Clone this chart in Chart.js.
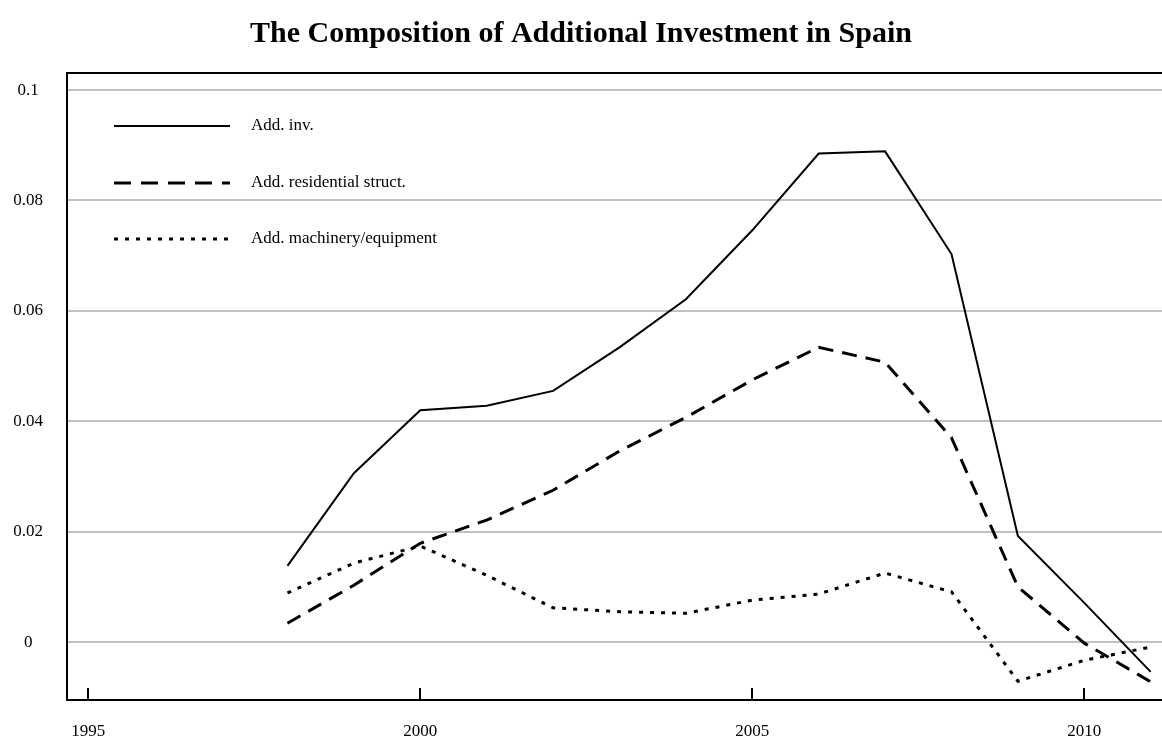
<!DOCTYPE html>
<html>
<head>
<meta charset="utf-8">
<script src="https://cdn.jsdelivr.net/npm/chart.js@4.4.1/dist/chart.umd.min.js"></script>
<style>
  html, body { margin: 0; padding: 0; background: #fff; }
  #wrap { width: 1162px; height: 736px; }
</style>
</head>
<body>
<div id="wrap"><canvas id="myChart" width="1162" height="736"></canvas></div>
<script>
// Data
const years = [1998, 1999, 2000, 2001, 2002, 2003, 2004, 2005, 2006, 2007, 2008, 2009, 2010, 2011];
const addInv = [0.0138, 0.0306, 0.0420, 0.0428, 0.0455, 0.0534, 0.0621, 0.0746, 0.0885, 0.0889, 0.0703, 0.0192, 0.0071, -0.0054];
const addResidential = [0.0034, 0.0103, 0.0179, 0.0221, 0.0275, 0.0346, 0.0407, 0.0475, 0.0534, 0.0507, 0.0370, 0.0100, -0.0002, -0.0072];
const addMachinery = [0.0089, 0.0143, 0.0174, 0.0121, 0.0062, 0.0055, 0.0052, 0.0076, 0.0087, 0.0125, 0.0091, -0.0071, -0.0033, -0.0009];
const seriesLabels = ['Add. inv.', 'Add. residential struct.', 'Add. machinery/equipment'];
const xTicks = [1995, 2000, 2005, 2010];

const serif = "'Liberation Serif', 'Times New Roman', serif";

function pts(vals) {
    return years.map((y, i) => ({ x: y, y: vals[i] }));
}

// Frame: top border, inward x ticks, legend inside plot
const framePlugin = {
    id: 'frame',
    afterDraw(chart) {
        const c = chart.ctx;
        const a = chart.chartArea;
        const xs = chart.scales.x;
        c.save();
        c.strokeStyle = '#000';
        c.lineWidth = 2;
        c.beginPath();
        c.moveTo(a.left - 1, a.top);
        c.lineTo(a.right, a.top);
        c.stroke();
        xTicks.forEach(v => {
            const px = Math.round(xs.getPixelForValue(v));
            c.beginPath();
            c.moveTo(px, a.bottom);
            c.lineTo(px, a.bottom - 12);
            c.stroke();
        });
        // legend
        const rows = [126, 183, 239];
        chart.data.datasets.forEach((ds, i) => {
            c.beginPath();
            c.lineWidth = ds.borderWidth;
            c.setLineDash(ds.legendDash || []);
            c.moveTo(114, rows[i]);
            c.lineTo(230, rows[i]);
            c.stroke();
            c.setLineDash([]);
            c.fillStyle = '#000';
            c.font = '17px ' + serif;
            c.textBaseline = 'middle';
            c.textAlign = 'left';
            c.fillText(ds.label, 251, rows[i]);
        });
        c.restore();
    }
};

const ctx = document.getElementById('myChart').getContext('2d');
const myChart = new Chart(ctx, {
    type: 'line',
    data: {
        datasets: [{
            label: seriesLabels[0],
            data: pts(addInv),
            borderColor: '#000',
            borderWidth: 2,
            legendDash: []
        }, {
            label: seriesLabels[1],
            data: pts(addResidential),
            borderColor: '#000',
            borderWidth: 3,
            borderDash: [15, 9],
            legendDash: [17, 10]
        }, {
            label: seriesLabels[2],
            data: pts(addMachinery),
            borderColor: '#000',
            borderWidth: 3,
            borderDash: [4, 7],
            legendDash: [4, 7]
        }]
    },
    options: {
        responsive: false,
        animation: false,
        events: [],
        elements: { point: { radius: 0 }, line: { tension: 0 } },
        layout: { padding: { left: 0, right: 0, top: 0, bottom: 0 } },
        plugins: {
            legend: { display: false },
            tooltip: { enabled: false },
            title: {
                display: true,
                text: 'The Composition of Additional Investment in Spain',
                color: '#000',
                font: { family: serif, size: 30, weight: 'bold', lineHeight: 1.2 },
                padding: { top: 16, bottom: 21 }
            }
        },
        scales: {
            x: {
                type: 'linear',
                min: 1994.68,
                max: 2011.17,
                afterFit(s) { s.height = 36; },
                grid: { display: false, drawTicks: false },
                border: { display: true, color: '#000', width: 2 },
                ticks: {
                    stepSize: 5,
                    includeBounds: false,
                    autoSkip: false,
                    maxRotation: 0,
                    padding: 21,
                    color: '#000',
                    font: { family: serif, size: 17 },
                    callback: v => String(v)
                }
            },
            y: {
                min: -0.0105,
                max: 0.1031,
                afterFit(s) { s.width = 67; },
                grid: { color: '#c0c0c0', lineWidth: 2, drawTicks: false },
                border: { display: true, color: '#000', width: 2 },
                ticks: {
                    stepSize: 0.02,
                    includeBounds: false,
                    crossAlign: 'center',
                    padding: 24,
                    color: '#000',
                    font: { family: serif, size: 17 },
                    callback: v => String(Math.round(v * 100) / 100)
                }
            }
        }
    },
    plugins: [framePlugin]
});
</script>
</body>
</html>
